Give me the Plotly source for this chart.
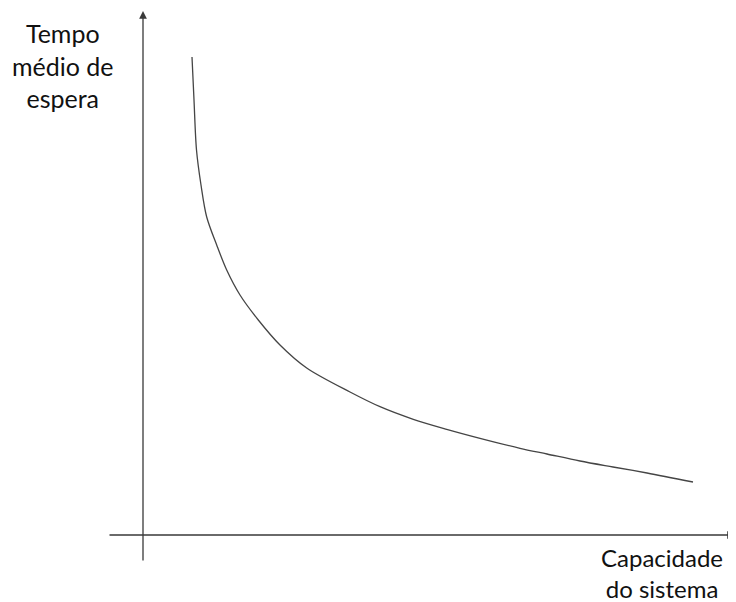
import plotly.graph_objects as go

# Capacity of the system (arbitrary units) and mean waiting time (arbitrary units)
capacidade = [4.9, 5.1, 5.35, 5.8, 6.37, 7.37, 8.37, 9.7, 11.53, 13.7, 16.37, 20.7,
              23.7, 27.03, 30.37, 33.7, 37.7, 40.4, 43.7, 47.0, 50.4, 55.0]
tempo_espera = [47.8, 43.5, 38.5, 35.0, 31.8, 29.0, 26.5, 24.0, 21.5, 19.0, 16.7, 14.3,
                12.83, 11.57, 10.57, 9.67, 8.67, 8.1, 7.4, 6.8, 6.2, 5.3]

y_label = "Tempo<br>médio de<br>espera"
x_label = "Capacidade<br>do sistema"

fig = go.Figure()
fig.add_trace(go.Scatter(
    x=capacidade, y=tempo_espera, mode="lines",
    line=dict(color="#454545", width=1.3, shape="spline", smoothing=0.9),
    hoverinfo="skip", showlegend=False,
))

axis_col = "#3a3a3a"
# y axis arrow
fig.add_annotation(x=0, y=52.4, ax=0, ay=-2.7, xref="x", yref="y", axref="x", ayref="y",
                   showarrow=True, arrowhead=2, arrowsize=1.2, arrowwidth=1.3,
                   arrowcolor=axis_col, text="")
# x axis arrow
fig.add_annotation(x=59.2, y=0, ax=-3.5, ay=0, xref="x", yref="y", axref="x", ayref="y",
                   showarrow=True, arrowhead=2, arrowsize=1.2, arrowwidth=1.3,
                   arrowcolor=axis_col, text="")

fig.add_annotation(x=-8.0, y=47.0, xref="x", yref="y", text=y_label, showarrow=False,
                   font=dict(family="Lato", size=25, color="#111"), align="center")
fig.add_annotation(x=51.9, y=-3.8, xref="x", yref="y", text=x_label, showarrow=False,
                   font=dict(family="Lato", size=24, color="#111"), align="center")

fig.update_layout(
    width=728, height=594,
    margin=dict(l=0, r=0, t=0, b=0),
    paper_bgcolor="white", plot_bgcolor="white",
    xaxis=dict(range=[-13.5, 59.3], visible=False, fixedrange=True),
    yaxis=dict(range=[-6.7, 52.7], visible=False, fixedrange=True),
)

fig.write_html("out.html")
